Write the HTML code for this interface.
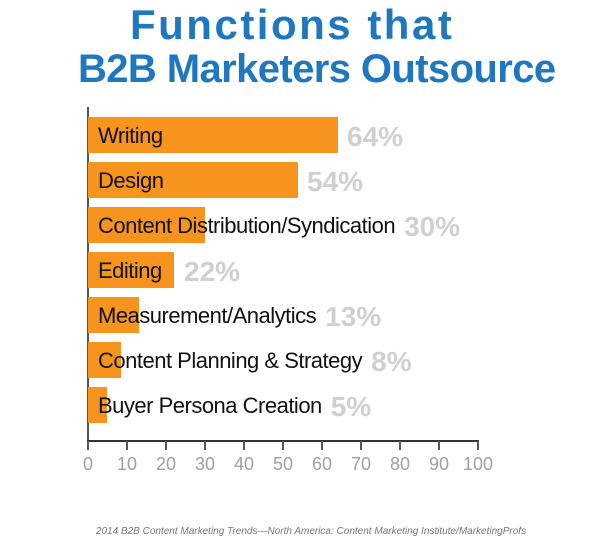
<!DOCTYPE html>
<html><head><meta charset="utf-8"><style>
body{margin:0;width:603px;height:543px;background:#fff;position:relative;overflow:hidden;font-family:"Liberation Sans",sans-serif}
.t{position:absolute;color:#1f77c0;font-weight:bold;line-height:44px;white-space:nowrap}
.bar{position:absolute;left:88px;height:36px;background:#f7941d}
.row{position:absolute;left:98px;white-space:nowrap;height:36px}
.lb{display:inline-block;font-size:22px;color:#111;line-height:38px;letter-spacing:-0.5px;vertical-align:top}
.p{display:inline-block;margin-left:9px;font-size:28px;font-weight:bold;color:#d0d0d0;line-height:40px;vertical-align:top}
.tk{position:absolute;top:441px;width:2px;height:9px;background:#555}
.tl{position:absolute;top:454px;width:40px;margin-left:-20px;text-align:center;font-size:18px;color:#a0a0a0}
</style></head><body>
<div class="t" style="top:3px;left:130px;font-size:42px;letter-spacing:2.5px">Functions that</div>
<div class="t" style="top:47px;left:78px;font-size:40px;letter-spacing:-0.6px">B2B Marketers Outsource</div>
<div style="position:absolute;left:87px;top:107px;width:2px;height:335px;background:#555"></div>
<div style="position:absolute;left:87px;top:440px;width:392px;height:2px;background:#333"></div>

<div class="bar" style="top:117px;width:250px"></div><div class="row" style="top:117px"><span class="lb" style="min-width:240px">Writing</span><span class="p">64%</span></div>
<div class="bar" style="top:162px;width:210px"></div><div class="row" style="top:162px"><span class="lb" style="min-width:200px">Design</span><span class="p">54%</span></div>
<div class="bar" style="top:207px;width:117px"></div><div class="row" style="top:207px"><span class="lb">Content Distribution/Syndication</span><span class="p">30%</span></div>
<div class="bar" style="top:252px;width:86px"></div><div class="row" style="top:252px"><span class="lb" style="min-width:77px">Editing</span><span class="p">22%</span></div>
<div class="bar" style="top:297px;width:51px"></div><div class="row" style="top:297px"><span class="lb">Measurement/Analytics</span><span class="p">13%</span></div>
<div class="bar" style="top:342px;width:33px"></div><div class="row" style="top:342px"><span class="lb">Content Planning &amp; Strategy</span><span class="p">8%</span></div>
<div class="bar" style="top:387px;width:19px"></div><div class="row" style="top:387px"><span class="lb">Buyer Persona Creation</span><span class="p">5%</span></div>

<div class="tk" style="left:87px"></div><div class="tk" style="left:126px"></div><div class="tk" style="left:165px"></div><div class="tk" style="left:204px"></div><div class="tk" style="left:243px"></div><div class="tk" style="left:282px"></div><div class="tk" style="left:321px"></div><div class="tk" style="left:360px"></div><div class="tk" style="left:399px"></div><div class="tk" style="left:438px"></div><div class="tk" style="left:477px"></div>
<div class="tl" style="left:88px">0</div><div class="tl" style="left:127px">10</div><div class="tl" style="left:166px">20</div><div class="tl" style="left:205px">30</div><div class="tl" style="left:244px">40</div><div class="tl" style="left:283px">50</div><div class="tl" style="left:322px">60</div><div class="tl" style="left:361px">70</div><div class="tl" style="left:400px">80</div><div class="tl" style="left:439px">90</div><div class="tl" style="left:478px">100</div>

<div style="position:absolute;top:526px;left:0;width:622px;text-align:center;font-size:10px;font-style:italic;color:#777">2014 B2B Content Marketing Trends—North America: Content Marketing Institute/MarketingProfs</div>
</body></html>
